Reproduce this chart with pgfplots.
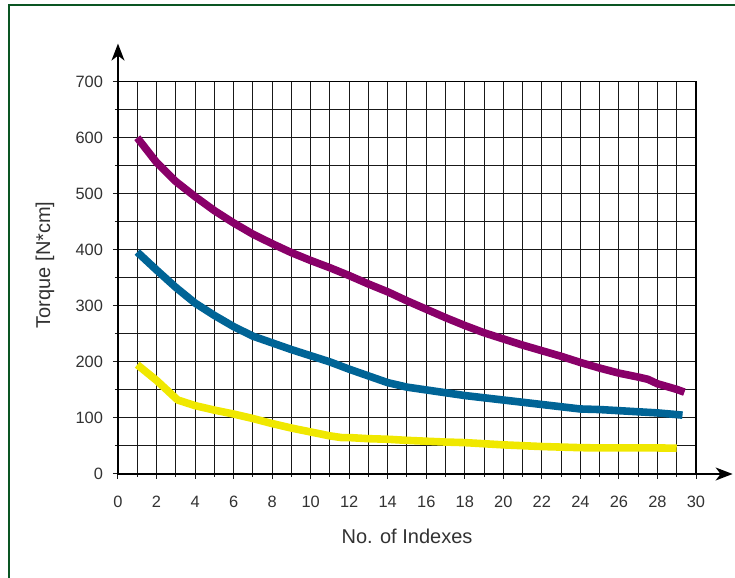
\documentclass[border=0pt]{standalone}
\usepackage{fontspec}
\setmainfont{Liberation Sans}
\usepackage{pgfplots}
\pgfplotsset{compat=1.18}
\usetikzlibrary{arrows.meta}
\definecolor{cpurple}{RGB}{137,0,105}
\definecolor{cblue}{RGB}{0,100,150}
\definecolor{cyellow}{RGB}{240,232,0}
\definecolor{cframe}{RGB}{10,85,35}
\definecolor{ctext}{RGB}{50,50,50}
\begin{document}
\begin{tikzpicture}
\path[use as bounding box] (0,0) rectangle (367.5pt,289pt);
\draw[cframe, line width=1.1pt] (4.5pt,-20pt) rectangle (390pt,286.5pt);
\begin{axis}[
  at={(59pt,52pt)}, anchor=south west,
  scale only axis, width=289pt, height=196.15pt,
  xmin=0, xmax=30, ymin=0, ymax=700,
  xtick={0,2,...,30}, minor xtick={1,3,...,29},
  ytick={0,100,...,700}, minor ytick={50,150,...,650},
  grid=both,
  major grid style={black!90, line width=0.5pt},
  minor grid style={black!90, line width=0.5pt},
  axis line style={black, line width=0.7pt},
  xtick pos=bottom, ytick pos=left,
  tick align=outside,
  major tick length=2.5pt, minor tick length=1.5pt,
  tick style={black!90, line width=0.5pt},
  /pgf/number format/assume math mode=true,
  ticklabel style={font=\fontsize{8.2}{9}\selectfont, text=ctext},
  xticklabel style={yshift=-5pt},
  yticklabel style={xshift=-1.5pt},
  xlabel={No. of Indexes},
  ylabel={Torque [N*cm]},
  label style={font=\fontsize{10}{12}\selectfont, text=ctext},
  xlabel style={at={(axis description cs:0.5,0)}, anchor=center, yshift=-31pt},
  ylabel style={at={(axis description cs:0,0.533)}, anchor=center, yshift=36.5pt},
  clip=false,
  every axis plot/.append style={line width=3.8pt, line join=round, line cap=butt},
]
\draw[black, line width=0.75pt, -{Stealth[length=8.5pt,width=6.5pt,inset=2.5pt]}] (axis cs:0,0) -- (axis cs:0,768);
\draw[black, line width=0.75pt, -{Stealth[length=8.5pt,width=6.5pt,inset=2.5pt]}] (axis cs:0,0) -- (axis cs:31.9,0);
\addplot[cpurple] coordinates {
(1,600) (2,556) (3,522) (4,495) (5,470) (6,448) (7,428) (8,411) (9,395) (10,381)
(11,368) (12,354) (13,339) (14,325) (15,309) (16,294) (17,279) (18,265) (19,252) (20,241)
(21,230) (22,220) (23,210) (24,199) (25,189) (26,180) (27,173) (27.5,169) (28,161) (29,151) (29.4,146)};
\addplot[cblue] coordinates {
(1,396) (2,364) (3,333) (4,305) (5,283) (6,263) (7,246) (8,234) (9,222) (10,211)
(11,200) (12,187) (13,175) (14,163) (15,155) (16,150) (17,145) (18,140) (19,136) (20,132)
(21,128) (22,124) (23,120) (24,116) (25,115) (26,113) (27,111) (28,109) (29,106) (29.3,105)};
\addplot[cyellow] coordinates {
(1,195) (2,167) (3.1,132) (4,122) (5,114) (6,107) (7,99) (8,90) (9,82) (10,75)
(11,68) (11.6,65) (12,65) (13,63) (14,62) (15,60) (16,58.5) (17,57) (18,56) (19,54)
(20,52) (21,50.5) (22,49) (23,48) (24,47) (25,46.5) (26,46.5) (27,46.5) (28,46.5) (29,46)};
\end{axis}
\end{tikzpicture}
\end{document}
